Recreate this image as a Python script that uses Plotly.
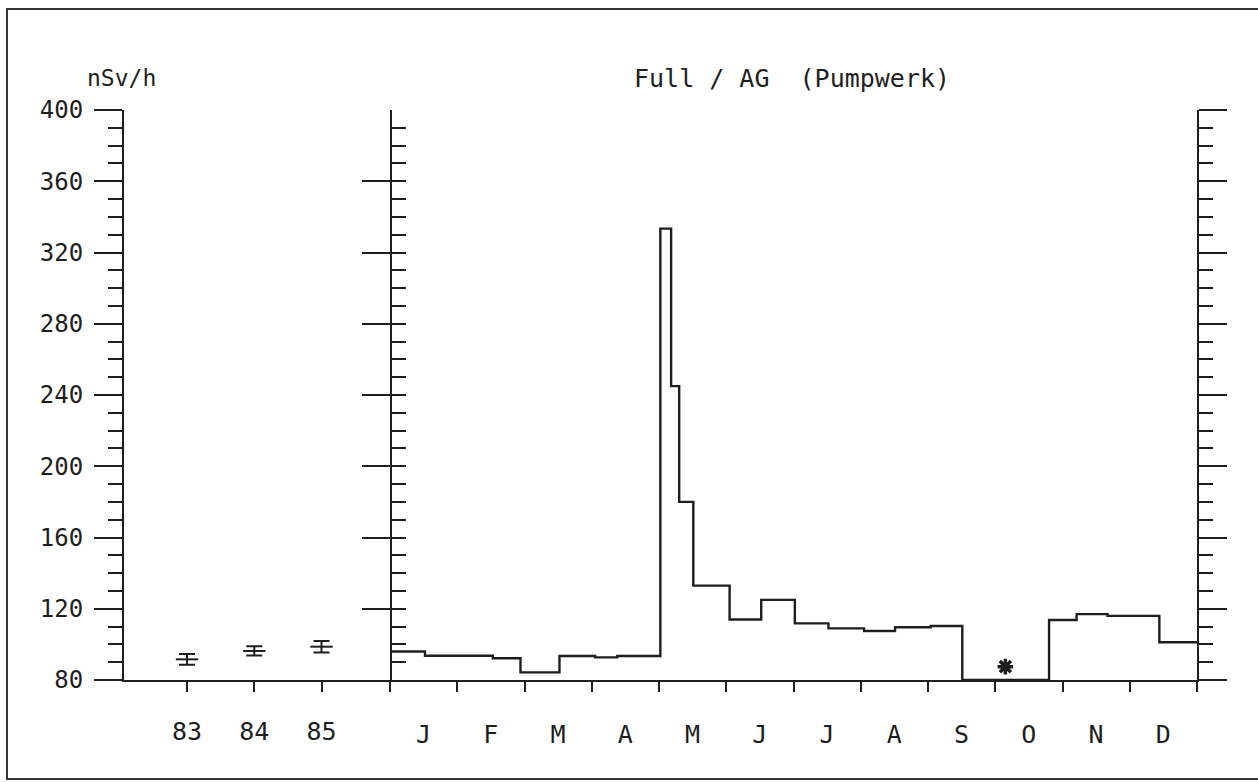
import plotly.graph_objects as go

# ---------------- data ----------------
years = [83, 84, 85]
year_labels = ["83", "84", "85"]
year_means = [91.6, 96.3, 98.7]
year_err = [3.0, 2.6, 3.2]

months = ["J", "F", "M", "A", "M", "J", "J", "A", "S", "O", "N", "D"]
month_centers = [0.5 + i for i in range(12)]
month_bounds = list(range(13))

# step series: start of each measuring period (in months from 1 Jan) and its value (nSv/h)
step_start = [0.0, 0.52, 1.53, 1.94, 2.52, 3.05, 3.38, 4.02, 4.18, 4.30, 4.51,
              5.05, 5.52, 6.02, 6.52, 7.05, 7.51, 8.04, 8.51, 9.80, 10.21,
              10.67, 11.44, 12.0]
step_value = [96.0, 93.6, 92.2, 84.3, 93.5, 92.7, 93.5, 333.4, 245.0, 180.0, 133.0,
              114.0, 125.0, 111.8, 109.0, 107.5, 109.6, 110.3, 80.0, 113.7, 117.0,
              116.0, 101.2, 101.2]

star_x = [9.15]
star_y = [87.5]

y_range = [80, 400]

INK = "#1e1e1e"
W, H = 1258, 782

fig = go.Figure()

# yearly means with error bars (left panel)
fig.add_trace(go.Scatter(
    x=years, y=year_means, mode="markers", xaxis="x", yaxis="y",
    marker=dict(symbol="line-ew-open", size=16, color=INK,
                line=dict(width=2, color=INK)),
    error_y=dict(type="data", array=year_err, visible=True, width=8,
                 thickness=2, color=INK),
    showlegend=False, hoverinfo="skip"))

# monthly step curve (right panel)
fig.add_trace(go.Scatter(
    x=step_start, y=step_value, mode="lines", xaxis="x2", yaxis="y",
    line=dict(shape="hv", width=2.4, color=INK),
    showlegend=False, hoverinfo="skip"))

fig.add_trace(go.Scatter(
    x=star_x, y=star_y, mode="markers", xaxis="x2", yaxis="y",
    marker=dict(symbol="asterisk-open", size=13, color=INK,
                line=dict(width=3.5, color=INK)),
    showlegend=False, hoverinfo="skip"))

FONT = "DejaVu Sans Mono"
y_dom = [(H - 680) / H, (H - 110) / H]
x1_dom = [124 / W, 390 / W]
x2_dom = [390 / W, 1197 / W]
px_per_unit = (1197 - 390) / 12.0
x1_lo = 83 - (187 - 124) / px_per_unit
x1_hi = x1_lo + (390 - 124) / px_per_unit

common_y = dict(range=y_range, domain=y_dom, showgrid=False, zeroline=False,
                showline=True, linewidth=2, linecolor=INK, automargin=False,
                tickmode="linear", tick0=80, dtick=40, ticklen=28, tickwidth=2,
                tickcolor=INK,
                minor=dict(dtick=10, tick0=80, ticklen=14, tickwidth=2,
                           tickcolor=INK, showgrid=False))

fig.update_layout(
    template="none",
    width=W, height=H, margin=dict(l=0, r=0, t=0, b=0, pad=0),
    paper_bgcolor="white", plot_bgcolor="white",
    font=dict(family=FONT, color=INK),
    xaxis=dict(domain=x1_dom, range=[x1_lo, x1_hi], anchor="y", automargin=False,
               tickvals=years, ticktext=year_labels, ticks="outside",
               ticklen=10, tickwidth=2, tickcolor=INK,
               showline=True, linewidth=2, linecolor=INK,
               showgrid=False, zeroline=False,
               tickfont=dict(size=25, family=FONT, color=INK),
               ticklabelstandoff=18),
    xaxis2=dict(domain=x2_dom, range=[0, 12], anchor="y", automargin=False,
                tickvals=month_centers, ticktext=months, ticks="outside",
                ticklen=0, tickwidth=0, tickcolor="white",
                minor=dict(tickvals=month_bounds, ticks="outside", ticklen=10,
                           tickwidth=2, tickcolor=INK, showgrid=False),
                showline=True, linewidth=2, linecolor=INK,
                showgrid=False, zeroline=False,
                tickfont=dict(size=25, family=FONT, color=INK),
                ticklabelstandoff=31),
    yaxis=dict(anchor="x", side="left", ticks="outside",
               tickfont=dict(size=24, family=FONT, color=INK),
               ticklabelstandoff=6, **common_y),
    yaxis2=dict(anchor="x", overlaying="y", side="right", ticks="inside",
                showticklabels=False, **common_y),
    yaxis3=dict(anchor="x2", overlaying="y", side="right", ticks="outside",
                showticklabels=False, **common_y),
)

# dummy traces so overlaying axes are drawn
fig.add_trace(go.Scatter(x=[None], y=[None], xaxis="x", yaxis="y2",
                         showlegend=False, hoverinfo="skip"))
fig.add_trace(go.Scatter(x=[None], y=[None], xaxis="x2", yaxis="y3",
                         showlegend=False, hoverinfo="skip"))

fig.add_annotation(text="nSv/h", xref="paper", yref="paper",
                   x=121 / W, y=(H - 78) / H, xanchor="center", yanchor="middle",
                   showarrow=False, font=dict(size=23, family=FONT, color=INK))
fig.add_annotation(text="Full / AG  (Pumpwerk)", xref="paper", yref="paper",
                   x=792 / W, y=(H - 78) / H, xanchor="center", yanchor="middle",
                   showarrow=False, font=dict(size=25, family=FONT, color=INK))

# outer frame of the plot sheet
fig.add_shape(type="rect", xref="paper", yref="paper",
              x0=7 / W, x1=1.02, y0=(H - 779) / H, y1=(H - 9) / H,
              line=dict(width=2, color="#333"))

fig.write_html("out.html")
